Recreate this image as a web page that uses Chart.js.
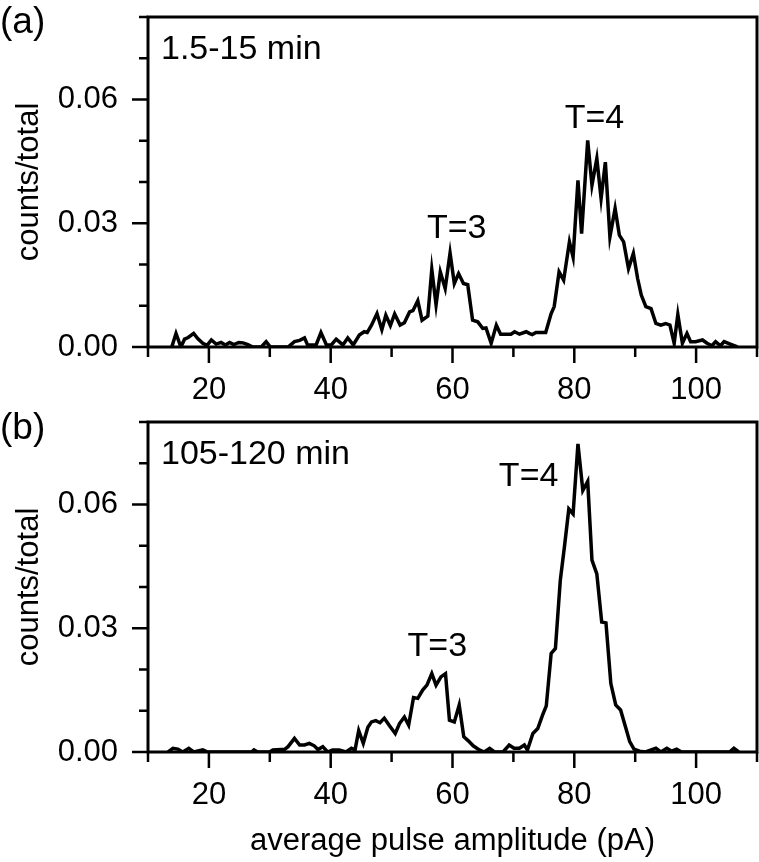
<!DOCTYPE html>
<html>
<head>
<meta charset="utf-8">
<script src="https://cdn.jsdelivr.net/npm/chart.js@4.4.0/dist/chart.umd.min.js"></script>
<style>
  body { margin: 0; background: #fff; }
  #wrap { position: relative; width: 759px; height: 862px; }
  canvas { position: absolute; left: 0; }
</style>
</head>
<body>
<div id="wrap">
  <canvas id="chA" width="759" height="400" style="top:0"></canvas>
  <canvas id="chB" width="759" height="462" style="top:400px"></canvas>
</div>
<script>
// ---- data (amplitude in pA, fraction of counts) ----
var ampA = [13.9,14.6,15.4,16.0,16.6,17.5,18.2,19.0,19.7,20.4,21.2,22.0,22.7,23.4,24.1,24.9,25.6,26.4,27.2,28.6,29.4,30.1,31.6,33.0,
  34.05,34.9,35.7,36.2,37.6,38.4,39.3,40.1,40.9,42.0,42.8,43.7,44.7,45.5,46.0,46.7,47.6,48.4,49.05,49.8,50.5,51.4,52.1,52.95,53.5,
  54.3,55.0,55.95,56.6,57.3,58.0,58.8,59.6,60.3,61.0,61.8,62.5,63.3,64.15,64.97,65.5,66.35,67.2,67.9,68.8,69.6,70.2,71.0,72.1,72.6,
  73.1,73.7,75.3,76.2,76.7,77.5,78.25,79.2,79.8,80.6,81.2,82.2,82.9,83.7,84.4,85.1,85.85,86.7,87.4,88.1,88.9,89.7,90.4,91.0,91.75,
  92.6,93.4,94.2,95.0,95.7,96.4,97.0,97.75,98.5,99.1,99.9,101.05,101.8,102.6,103.2,104.0,104.6,105.4,106.8];
var fracA = [0,0.0033,0,0.0019,0.0023,0.0033,0.002,0.0009,0.0004,0.0017,0.0007,0.0011,0.0005,0.0011,0.0006,0.0011,0.001,0.0006,0,0,
  0.0013,0,0,0,0.0013,0.0016,0.0022,0.0005,0.0005,0.0035,0.0005,0.0005,0.0019,0.0005,0.0022,0.0005,0.0029,0.0037,0.0035,0.0053,
  0.0081,0.0042,0.0077,0.0052,0.008,0.0053,0.0059,0.0085,0.0088,0.0112,0.0065,0.0075,0.0188,0.0102,0.0182,0.0142,0.0228,0.0154,
  0.0178,0.0154,0.0151,0.0065,0.0061,0.0045,0.0046,0.0009,0.0053,0.0031,0.0031,0.0031,0.0037,0.0031,0.0037,0.0033,0.003,0.0035,
  0.0035,0.0081,0.0098,0.0182,0.0162,0.0255,0.0218,0.0404,0.0275,0.0501,0.0392,0.0457,0.036,0.0448,0.0267,0.0336,0.0271,0.0255,
  0.019,0.0227,0.0166,0.0126,0.0098,0.0093,0.0057,0.0053,0.0057,0.0053,0.0009,0.0079,0.0009,0.0033,0.0013,0.0013,0.0017,0.0009,
  0.0003,0.0013,0.0003,0.0013,0.0008,0];

var ampB = [13.3,14.1,14.9,15.7,16.7,17.5,19.0,19.8,27.0,27.4,28.0,30.0,30.5,31.9,32.4,33.0,34.05,34.9,35.7,36.5,37.3,37.9,38.7,39.5,
  40.3,41.4,42.5,43.4,44.0,44.6,45.35,46.1,46.7,47.4,48.1,48.8,49.6,50.6,51.3,52.1,52.8,53.6,54.3,55.1,55.8,56.6,57.3,58.1,58.85,
  59.5,60.3,61.1,61.85,62.6,63.4,64.4,65.2,66.1,66.9,68.3,69.3,70.1,71.0,71.8,72.3,73.2,74.0,74.8,75.4,76.2,76.9,77.7,78.4,79.1,
  79.8,80.6,81.4,82.2,82.9,83.7,84.5,85.2,86.0,86.8,87.6,88.4,89.1,89.8,90.7,91.7,93.4,94.2,95.2,96.0,96.8,97.6,105.5,106.2,107.0];
var fracB = [0,0.0009,0.0007,0,0.0009,0,0.0005,0,0,0.0005,0,0,0.0005,0.0006,0.0006,0.0013,0.0033,0.0017,0.0017,0.0021,0.0015,0.0006,
  0.0013,0,0.0005,0.0005,0,0.0009,0.0005,0.0052,0.0021,0.006,0.0073,0.0076,0.0071,0.0082,0.0065,0.0045,0.0069,0.0085,0.0065,0.0132,
  0.013,0.015,0.0162,0.019,0.0162,0.0182,0.019,0.0077,0.0073,0.0114,0.0037,0.0027,0.0015,0.0005,0,0.0009,0,0,0.0017,0.0009,0.0009,
  0.0017,0.0005,0.0045,0.0057,0.009,0.0112,0.0239,0.0251,0.0416,0.05,0.0589,0.0577,0.0747,0.0634,0.0656,0.0465,0.0432,0.0315,
  0.0313,0.0166,0.0114,0.0102,0.0061,0.0025,0.0007,0.0002,0,0.0009,0,0.0009,0.0002,0.0007,0,0,0.0009,0];

// tick labels
var xTickLabels = [20, 40, 60, 80, 100];
var yTickLabels = [0, 0.03, 0.06];

// peak annotations [text, amplitude, fraction]
var notesA = [['T=3', 60.7, 0.0264], ['T=4', 83.3, 0.0532]];
var notesB = [['T=3', 57.5, 0.0232], ['T=4', 72.5, 0.0646]];

Chart.defaults.font.family = '"Liberation Sans", Arial, sans-serif';
Chart.defaults.color = '#000';

var framePlugin = {
  id: 'frame',
  afterDraw: function (chart, args, opts) {
    var ctx = chart.ctx, a = chart.chartArea;
    var xs = chart.scales.x, ys = chart.scales.y;
    ctx.save();
    ctx.strokeStyle = '#000';
    ctx.lineWidth = 3;
    ctx.strokeRect(a.left, a.top, a.right - a.left, a.bottom - a.top);
    ctx.lineWidth = 2.5;
    ctx.beginPath();
    for (var v = 10; v <= 110; v += 10) {
      var px = xs.getPixelForValue(v);
      var len = xTickLabels.indexOf(v) >= 0 ? 16 : 10;
      ctx.moveTo(px, a.bottom);
      ctx.lineTo(px, a.bottom + len);
    }
    for (var k = 0; k <= 8; k++) {
      var py = ys.getPixelForValue(k / 100);
      var ylen = (k % 3 === 0 && k < 7) ? 16 : 9;
      ctx.moveTo(a.left, py);
      ctx.lineTo(a.left - ylen, py);
    }
    ctx.stroke();

    ctx.fillStyle = '#000';
    ctx.textBaseline = 'alphabetic';
    ctx.font = '37px "Liberation Sans", Arial, sans-serif';
    ctx.textAlign = 'left';
    ctx.fillText(opts.tag, 0, opts.tagY);
    ctx.font = '34px "Liberation Sans", Arial, sans-serif';
    ctx.fillText(opts.period, a.left + 13, a.top + 42);
    ctx.textAlign = 'center';
    opts.notes.forEach(function (n) {
      ctx.fillText(n[0], xs.getPixelForValue(n[1]), ys.getPixelForValue(n[2]));
    });
    ctx.restore();
  }
};

function noPad(s) {
  s.paddingTop = 0; s.paddingBottom = 0; s.paddingLeft = 0; s.paddingRight = 0;
}

function panel(id, amp, frac, cfg) {
  var pts = amp.map(function (x, i) { return { x: x, y: frac[i] }; });
  return new Chart(document.getElementById(id), {
    type: 'line',
    data: {
      datasets: [{
        data: pts,
        borderColor: '#000',
        borderWidth: 3.5,
        pointRadius: 0,
        tension: 0,
        fill: false
      }]
    },
    options: {
      responsive: false,
      animation: false,
      devicePixelRatio: 1,
      layout: { padding: { top: cfg.padTop, right: 2, left: 0, bottom: 0 } },
      plugins: {
        legend: { display: false },
        tooltip: { enabled: false },
        frame: { tag: cfg.tag, tagY: cfg.tagY, period: cfg.period, notes: cfg.notes }
      },
      scales: {
        x: {
          type: 'linear', min: 10, max: 110,
          grid: { display: false, drawTicks: false },
          border: { display: false },
          ticks: {
            stepSize: 10, autoSkip: false, maxRotation: 0, padding: 25,
            font: { size: 31 },
            callback: function (v) { return xTickLabels.indexOf(v) >= 0 ? String(v) : ''; }
          },
          title: {
            display: cfg.xTitle, text: 'average pulse amplitude (pA)',
            font: { size: 31 }, padding: { top: 0, bottom: 2 }
          },
          afterFit: function (s) { s.height = cfg.xHeight; noPad(s); }
        },
        y: {
          min: 0, max: 0.08,
          grid: { display: false, drawTicks: false },
          border: { display: false },
          ticks: {
            stepSize: 0.01, autoSkip: false, padding: 30,
            font: { size: 31 },
            callback: function (v) {
              var k = Math.round(v * 100) / 100;
              return yTickLabels.indexOf(k) >= 0 ? k.toFixed(2) : '';
            }
          },
          title: { display: true, text: 'counts/total', font: { size: 31 }, padding: { top: 11, bottom: 0 } },
          afterFit: function (s) { s.width = 148; noPad(s); }
        }
      }
    },
    plugins: [framePlugin]
  });
}

panel('chA', ampA, fracA, { padTop: 17, xHeight: 53, xTitle: false, tag: '(a)', tagY: 33, period: '1.5-15 min', notes: notesA });
panel('chB', ampB, fracB, { padTop: 22, xHeight: 110, xTitle: true, tag: '(b)', tagY: 39, period: '105-120 min', notes: notesB });
</script>
</body>
</html>
